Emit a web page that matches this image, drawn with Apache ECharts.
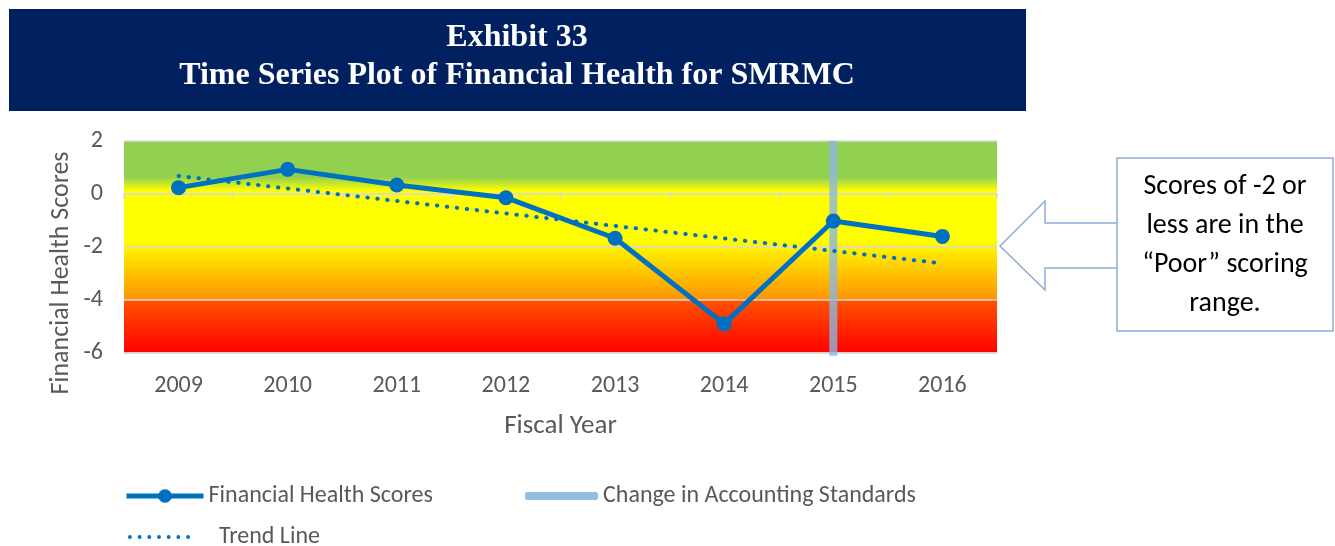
<!DOCTYPE html>
<html>
<head>
<meta charset="utf-8">
<script src="https://cdn.jsdelivr.net/npm/echarts@6/dist/echarts.min.js"></script>
<style>
  html, body { margin: 0; padding: 0; background: #fff; }
  #main { width: 1335px; height: 546px; }
</style>
</head>
<body>
<div id="main"></div>
<script>
var years = ['2009', '2010', '2011', '2012', '2013', '2014', '2015', '2016'];
var scores = [0.24, 0.93, 0.34, -0.14, -1.67, -4.9, -1.02, -1.6];
var trendEnds = [['2009', 0.68], ['2016', -2.62]];
var changeYear = '2015';
var yTicks = { min: -6, max: 2, step: 2 };
var calloutLines = ['Scores of -2 or', 'less are in the', '\u201cPoor\u201d scoring', 'range.'];

var font = 'Carlito, Calibri, Lato, sans-serif';
var grey = '#595959';
var titleFont = 'bold 32px "Liberation Serif", "Times New Roman", serif';

// dotted legend glyph (seven round dots)
var dotPath = 'path://' + [2, 12, 22, 32, 42, 52, 62].map(function (c) {
  return 'M' + (c - 2) + ',2a2,2 0 1,0 4,0a2,2 0 1,0 -4,0';
}).join('');

var chart = echarts.init(document.getElementById('main'));

var bgFill = new echarts.graphic.LinearGradient(0, 0, 0, 1, [
  { offset: 0, color: '#92d050' },
  { offset: 0.17, color: '#92d050' },
  { offset: 0.235, color: '#ffff00' },
  { offset: 0.47, color: '#ffff00' },
  { offset: 0.748, color: '#ff9400' },
  { offset: 0.752, color: '#ff5200' },
  { offset: 1, color: '#ff0000' }
]);

var calloutText = calloutLines.map(function (t, i) {
  return {
    type: 'text', x: 1225, y: 187 + i * 39,
    style: { text: t, font: '28px ' + font, fill: '#000', align: 'center', verticalAlign: 'middle' }
  };
});

var legendText = { fontFamily: font, fontSize: 24, color: grey };

chart.setOption({
  backgroundColor: '#fff',
  animation: false,
  grid: {
    left: 124, right: 338, top: 141, bottom: 193,
    show: true, backgroundColor: bgFill, borderWidth: 0
  },
  legend: [
    {
      data: ['Financial Health Scores'], left: 124, top: 484, padding: 0,
      itemWidth: 77, itemHeight: 17, itemGap: 0,
      lineStyle: { width: 5 },
      textStyle: legendText
    },
    {
      data: [{ name: 'Change in Accounting Standards', icon: 'roundRect' }], left: 525, top: 484, padding: 0,
      itemWidth: 73, itemHeight: 8,
      textStyle: legendText
    },
    {
      data: [{ name: 'Trend Line', icon: dotPath }], left: 128, top: 525, padding: 0,
      itemWidth: 62, itemHeight: 4,
      textStyle: echarts.util.extend({ padding: [0, 0, 0, 24] }, legendText)
    }
  ],
  xAxis: [
    {
      type: 'category', data: years, boundaryGap: true,
      position: 'bottom',
      axisLine: { onZero: false, lineStyle: { color: '#d9d9d9', width: 1.5 } },
      axisTick: { show: false },
      axisLabel: { fontFamily: font, fontSize: 24, color: grey, margin: 21 },
      name: 'Fiscal Year', nameLocation: 'middle', nameGap: 60,
      nameTextStyle: { fontFamily: font, fontSize: 27, color: grey }
    },
    {
      type: 'category', data: years, boundaryGap: true,
      position: 'bottom',
      axisLine: { onZero: true, lineStyle: { color: '#d9d9d9', width: 1.5 } },
      axisTick: { show: true, length: 5, lineStyle: { color: '#d9d9d9', width: 1.5 } },
      axisLabel: { show: false }
    }
  ],
  yAxis: {
    type: 'value', min: yTicks.min, max: yTicks.max, interval: yTicks.step,
    axisLine: { show: false },
    axisTick: { show: false },
    axisLabel: { fontFamily: font, fontSize: 24, color: grey, margin: 21 },
    splitLine: { lineStyle: { color: '#d9d9d9', width: 1.5 } }
  },
  series: [
    {
      name: 'Change in Accounting Standards', type: 'line',
      data: [[changeYear, yTicks.max], [changeYear, yTicks.min - 0.1]],
      symbol: 'none', clip: false, z: 3,
      lineStyle: { color: '#8db7e0', width: 8, opacity: 0.8, cap: 'butt' },
      itemStyle: { color: '#95bde0' }
    },
    {
      name: 'Trend Line', type: 'line', data: trendEnds,
      symbol: 'none', z: 4,
      lineStyle: { color: '#0070c0', width: 4, type: [0.5, 9.5], cap: 'round' },
      itemStyle: { color: '#0070c0' }
    },
    {
      name: 'Financial Health Scores', type: 'line', data: scores,
      symbol: 'circle', symbolSize: 15, z: 5,
      lineStyle: { color: '#0070c0', width: 5 },
      itemStyle: { color: '#0070c0' }
    }
  ],
  graphic: [
    {
      type: 'rect', shape: { x: 9, y: 9, width: 1017, height: 102 },
      style: { fill: '#002060' }
    },
    {
      type: 'text', x: 517, y: 38,
      style: { text: 'Exhibit 33', font: titleFont, fill: '#fff', align: 'center', verticalAlign: 'middle' }
    },
    {
      type: 'text', x: 517, y: 76,
      style: { text: 'Time Series Plot of Financial Health for SMRMC', font: titleFont, fill: '#fff', align: 'center', verticalAlign: 'middle' }
    },
    {
      type: 'text', x: 61, y: 273, rotation: Math.PI / 2,
      style: { text: 'Financial Health Scores', font: '26px ' + font, fill: grey, align: 'center', verticalAlign: 'middle' }
    },
    {
      type: 'polygon',
      shape: { points: [[1000, 246], [1045, 201], [1045, 223], [1118, 223], [1118, 268], [1045, 268], [1045, 290]] },
      style: { fill: '#fff', stroke: '#8faadc', lineWidth: 1.5 }
    },
    {
      type: 'rect', shape: { x: 1117, y: 158, width: 216, height: 173 },
      style: { fill: '#fff', stroke: '#8faadc', lineWidth: 1.5 }
    }
  ].concat(calloutText)
});
</script>
</body>
</html>
